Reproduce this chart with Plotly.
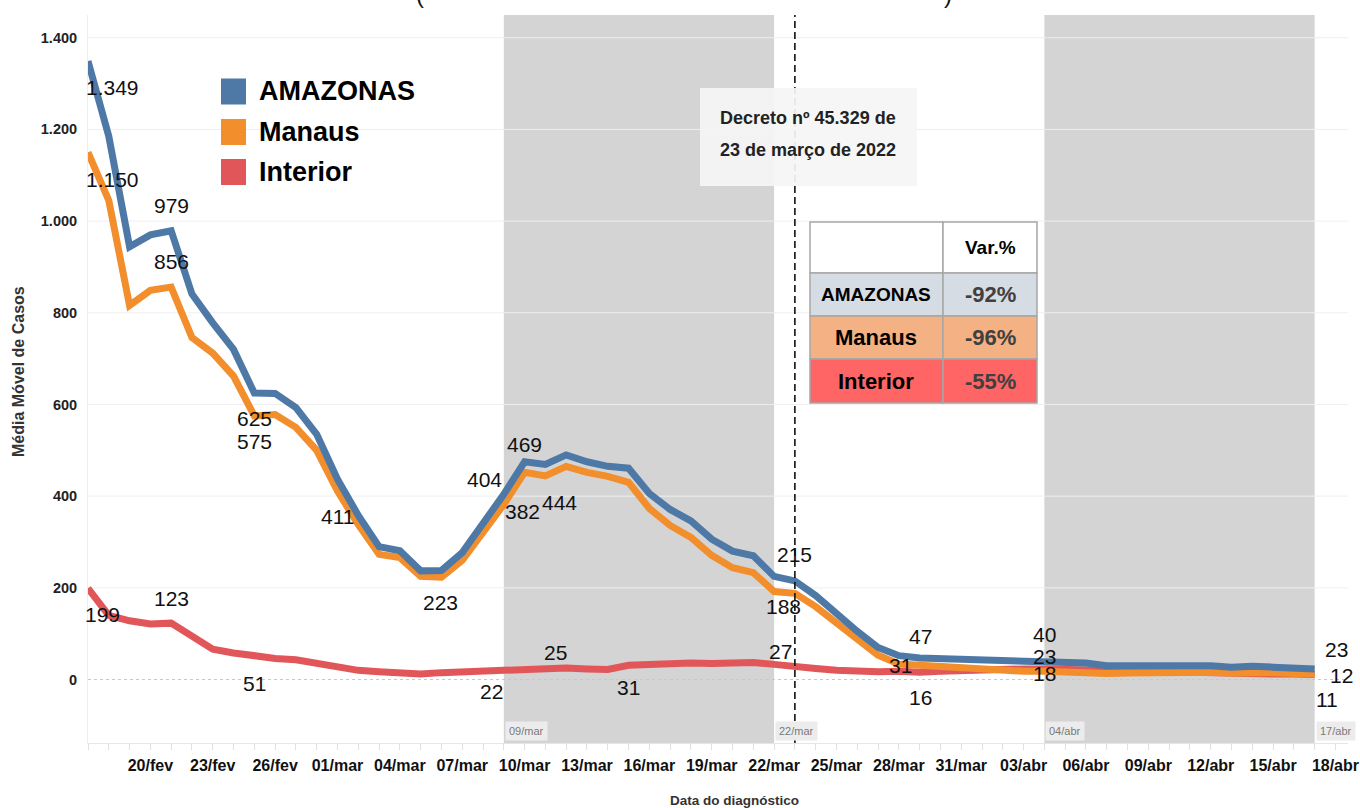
import plotly.graph_objects as go
import pandas as pd

# ---------------- data ----------------
dates = pd.date_range("2022-02-17", periods=60, freq="D")

amazonas = [1349, 1185, 944, 970, 979, 841, 778, 720, 625, 624,
            593, 535, 437, 358, 290, 281, 237, 238, 277, 340,
            404, 475, 469, 490, 475, 465, 461, 406, 371, 346,
            306, 280, 270, 225, 215, 183, 143, 105, 70, 52,
            47, 46, 45, 44, 43, 41, 40, 38, 36, 30,
            30, 30, 31, 30, 30, 27, 29, 27, 25, 23]
manaus = [1150, 1045, 816, 849, 856, 746, 712, 662, 575, 578,
          550, 500, 411, 338, 273, 266, 225, 223, 260, 321,
          382, 452, 444, 465, 452, 443, 430, 373, 336, 310,
          271, 244, 233, 192, 188, 159, 123, 88, 53, 34,
          31, 28, 25, 22, 20, 18, 18, 16, 16, 13,
          14, 15, 16, 16, 16, 14, 16, 15, 13, 12]
interior = [199, 140, 128, 121, 123, 95, 66, 58, 51, 46,
            43, 35, 26, 20, 17, 15, 12, 15, 17, 19,
            22, 23, 25, 25, 23, 22, 31, 33, 35, 36,
            35, 36, 37, 33, 27, 24, 20, 17, 17, 18,
            16, 18, 20, 22, 23, 23, 23, 22, 20, 17,
            16, 15, 15, 14, 14, 13, 13, 12, 12, 11]

series_names = ["AMAZONAS", "Manaus", "Interior"]

tick_dates = ["2022-02-20", "2022-02-23", "2022-02-26", "2022-03-01", "2022-03-04",
              "2022-03-07", "2022-03-10", "2022-03-13", "2022-03-16", "2022-03-19",
              "2022-03-22", "2022-03-25", "2022-03-28", "2022-03-31", "2022-04-03",
              "2022-04-06", "2022-04-09", "2022-04-12", "2022-04-15", "2022-04-18"]
tick_labels = ["20/fev", "23/fev", "26/fev", "01/mar", "04/mar", "07/mar", "10/mar",
               "13/mar", "16/mar", "19/mar", "22/mar", "25/mar", "28/mar", "31/mar",
               "03/abr", "06/abr", "09/abr", "12/abr", "15/abr", "18/abr"]
y_ticks = [0, 200, 400, 600, 800, 1000, 1200, 1400]

bands = [("2022-03-09", "2022-03-22"), ("2022-04-04", "2022-04-17")]
band_marks = [("2022-03-09", "09/mar"), ("2022-03-22", "22/mar"),
              ("2022-04-04", "04/abr"), ("2022-04-17", "17/abr")]
decree_date = "2022-03-23"
decree_lines = ["Decreto nº 45.329 de", "23 de março de 2022"]

table_header = "Var.%"
table_rows = ["AMAZONAS", "Manaus", "Interior"]
table_vals = ["-92%", "-96%", "-55%"]

# labelled marks: (series index, day index, xshift, yshift)
label_marks = [
    (0, 0, 24, -26), (1, 0, 24, -27), (2, 0, 14, -26),
    (0, 4, 0, 25), (1, 4, 0, 26), (2, 4, 0, 25),
    (0, 8, 0, -25), (1, 8, 0, -26), (2, 8, 0, -27),
    (1, 12, 0, -25), (1, 17, -1, -25),
    (0, 20, -19, 15), (1, 20, 19, -7), (2, 20, -12, -22),
    (0, 22, -21, 20), (1, 22, 14, -27), (2, 22, 10, 16),
    (2, 26, 0, -22),
    (0, 34, 0, 26), (1, 34, -11, -13), (2, 34, -14, 16),
    (0, 40, 1, 21), (1, 40, -19, 0), (2, 40, 1, -25),
    (0, 46, 0, 27), (2, 46, 0, 12), (1, 46, 0, -2),
    (0, 59, 22, 19), (1, 59, 27, -1), (2, 59, 12, -25),
]

# ---------------- style ----------------
W, H = 1360, 808
L, R, T, B = 88, 12, 15, 65
PW, PH = W - L - R, H - T - B
SANS = "Liberation Sans, Arial, sans-serif"
colors = ["#4e79a7", "#f28e2b", "#e15759"]
values = [amazonas, manaus, interior]


def px(x):
    return (x - L) / PW


def py(y):
    return (H - B - y) / PH


fig = go.Figure()
for idx in [2, 1, 0]:
    fig.add_trace(go.Scatter(
        x=dates, y=values[idx], mode="lines", name=series_names[idx],
        line=dict(color=colors[idx], width=7), hoverinfo="x+y+name",
    ))

shapes = []
for a, b in bands:
    shapes.append(dict(type="rect", xref="x", yref="paper", x0=a, x1=b, y0=0, y1=1,
                       fillcolor="#d4d4d4", line=dict(width=0), layer="below"))
for v in y_ticks:
    shapes.append(dict(type="line", xref="paper", yref="y", x0=0, x1=1, y0=v, y1=v,
                       line=dict(color="#c8c8c8" if v == 0 else "#efefef", width=1,
                                 dash="dot" if v == 0 else "solid"),
                       layer="below"))
shapes.append(dict(type="line", xref="x", yref="paper", x0=decree_date, x1=decree_date,
                   y0=0, y1=1, line=dict(color="#111111", width=1.6, dash="7px,4px"),
                   layer="above"))
shapes.append(dict(type="rect", xref="paper", yref="paper", x0=px(700), x1=px(917),
                   y0=py(186), y1=py(88), fillcolor="rgba(245,245,245,0.93)",
                   line=dict(width=0), layer="above"))

# table
cols_px = [810, 943, 1037]
rows_px = [222, 273, 316, 359, 403]
row_fills = ["#ffffff", "#d6dce4", "#f4b183", "#ff6565"]
for r in range(4):
    for c in range(2):
        shapes.append(dict(type="rect", xref="paper", yref="paper",
                           x0=px(cols_px[c]), x1=px(cols_px[c + 1]),
                           y0=py(rows_px[r + 1]), y1=py(rows_px[r]),
                           fillcolor=row_fills[r], line=dict(color="#a6a6a6", width=1.5),
                           layer="above"))

# legend squares
leg_y = [91.5, 132, 172]
for i in range(3):
    shapes.append(dict(type="rect", xref="paper", yref="paper", x0=px(221), x1=px(246),
                       y0=py(leg_y[i] + 13), y1=py(leg_y[i] - 13),
                       fillcolor=colors[i], line=dict(width=0), layer="above"))


def note(x, y, text, size, color="#000000", bold=False, xanchor="center", yanchor="middle", **kw):
    return dict(x=px(x), y=py(y), xref="paper", yref="paper",
                text=f"<b>{text}</b>" if bold else text, showarrow=False,
                xanchor=xanchor, yanchor=yanchor,
                font=dict(family=SANS, size=size, color=color), **kw)


ann = []
# data labels
for s, d, xs, ys in label_marks:
    v = values[s][d]
    ann.append(dict(x=dates[d], y=v, xref="x", yref="y", text=f"{v:,}".replace(",", "."),
                    showarrow=False, xanchor="center", yanchor="middle", xshift=xs, yshift=ys,
                    font=dict(family=SANS, size=21, color="#111111")))
# legend text
for i in range(3):
    ann.append(note(257, leg_y[i], series_names[i], 27, bold=True, xanchor="left"))
# decree text
for i, t in enumerate(decree_lines):
    ann.append(note(808, 118 + 32 * i, t, 18, color="#222222", bold=True))
# table text
ann.append(note(990, 248, table_header, 19, bold=True))
for r in range(3):
    yc = (rows_px[r + 1] + rows_px[r + 2]) / 2
    ann.append(note(876, yc, table_rows[r], 19 if r == 0 else 22, bold=True))
    ann.append(note(990, yc, table_vals[r], 22, color="#404040", bold=True))
# band marks
for d, t in band_marks:
    ann.append(dict(x=d, y=0, xref="x", yref="paper", text=t, showarrow=False,
                    xanchor="left", yanchor="bottom", xshift=1, yshift=2,
                    bgcolor="#ececec", borderpad=3,
                    font=dict(family=SANS, size=11, color="#7a7a7a")))
# axis titles
ann.append(note(735, 800, "Data do diagnóstico", 13.5, color="#333333", bold=True))
ann.append(note(18, 372, "Média Móvel de Casos", 16, color="#333333", bold=True, textangle=-90))
# clipped title parentheses
ann.append(note(420, 10, "(", 24, color="#111111", yanchor="bottom"))
ann.append(note(948, 10, ")", 24, color="#111111", yanchor="bottom"))

fig.update_layout(
    width=W, height=H, margin=dict(l=L, r=R, t=T, b=B, pad=0),
    paper_bgcolor="white", plot_bgcolor="white", showlegend=False,
    separators=",.", shapes=shapes, annotations=ann,
    xaxis=dict(type="date", range=["2022-02-17", "2022-04-18 14:30"], automargin=False,
               tickvals=tick_dates, ticktext=tick_labels, showgrid=False, zeroline=False,
               showline=True, linecolor="#e6e6e6", linewidth=1,
               ticks="outside", ticklen=6, tickcolor="#e0e0e0",
               minor=dict(ticks="outside", ticklen=6, tickcolor="#e0e0e0",
                          dtick=86400000, tick0="2022-02-17", showgrid=False),
               tickfont=dict(family=SANS, size=16, color="#111111", weight="bold"),
               ticklabelstandoff=2),
    yaxis=dict(range=[-138.5, 1449.6], tickvals=y_ticks, automargin=False,
               ticktext=[f"{v:,}".replace(",", ".") for v in y_ticks],
               showgrid=False, zeroline=False, showline=True, linecolor="#eeeeee",
               ticks="", tickfont=dict(family=SANS, size=14.5, color="#222222", weight="bold"),
               ticklabelstandoff=7),
)
fig.write_html("out.html", config={"displayModeBar": False},
               post_script="document.body.style.margin='0px';")
